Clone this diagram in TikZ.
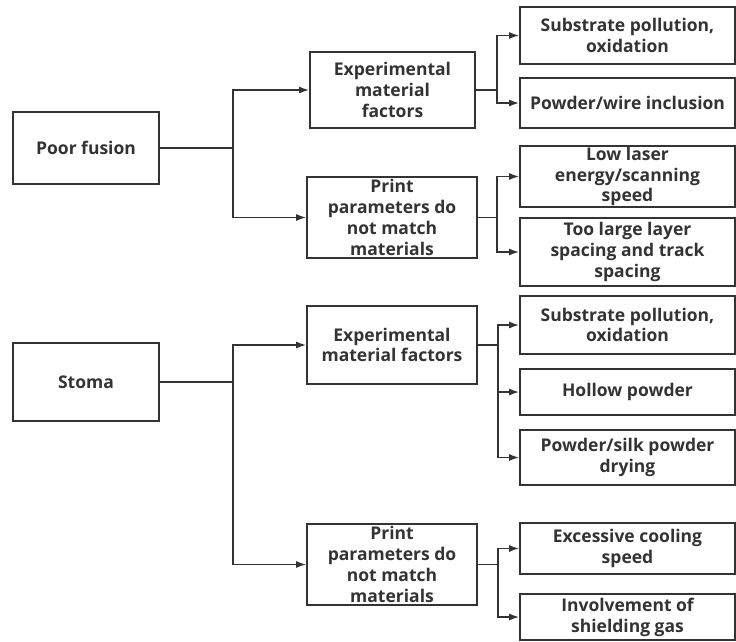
\documentclass[tikz,border=0pt]{standalone}
\usepackage{fontspec}
\setmainfont{Open Sans}
\usetikzlibrary{arrows.meta,positioning}
\definecolor{ink}{HTML}{333333}

\begin{document}
\begin{tikzpicture}[x=1pt,y=-1pt,>={Latex[length=10pt,width=7pt]},
                    line width=1.6pt,draw=ink,
                    font=\fontsize{17.5}{20.8}\selectfont\bfseries]
  \tikzstyle{every node}=[text=ink,align=center,inner sep=0pt]
  \tikzstyle{box}=[draw=ink,line width=1.6pt]
  \tikzstyle{root}=[box,minimum width=146pt]
  \tikzstyle{mid}=[box,minimum width=170pt]
  \tikzstyle{leaf}=[box,minimum width=215pt]
  \tikzstyle{elbow}=[->,to path={|- (\tikztotarget)}]

  \useasboundingbox (0,0) rectangle (736,641);

  % poor fusion
  \node[root,minimum height=72pt] (pf)    at (86,148)    {Poor fusion};
  \node[mid,minimum width=165pt,minimum height=76pt]
                                  (pfmat) at (392.5,90)  {Experimental\\material\\factors};
  \node[mid,minimum height=81pt]  (pfpar) at (392,217.5) {Print\\parameters do\\not match\\materials};
  \node[leaf,minimum height=57pt] (pfa)   at (627.5,35.5) {Substrate pollution,\\oxidation};
  \node[leaf,minimum height=50pt] (pfb)   at (627.5,103)  {Powder/wire inclusion};
  \node[leaf,minimum height=61pt] (pfc)   at (627.5,176.5) {Low laser\\energy/scanning\\speed};
  \node[leaf,minimum height=68pt] (pfd)   at (627.5,252)  {Too large layer\\spacing and track\\spacing};

  % stoma
  \node[root,minimum height=78pt] (st)    at (86,382)    {Stoma};
  \node[mid,minimum height=78pt]  (stmat) at (392,345)   {Experimental\\material factors};
  \node[mid,minimum height=81pt]  (stpar) at (392,564.5) {Print\\parameters do\\not match\\materials};
  \node[leaf,minimum height=58pt] (sta)   at (627.5,325)  {Substrate pollution,\\oxidation};
  \node[leaf,minimum height=46pt] (stb)   at (627.5,392)  {Hollow powder};
  \node[leaf,minimum height=55pt] (stc)   at (627.5,457.5) {Powder/silk powder\\drying};
  \node[leaf,minimum height=51pt] (std)   at (627.5,548.5) {Excessive cooling\\speed};
  \node[leaf,minimum height=46pt] (ste)   at (627.5,617)  {Involvement of\\shielding gas};

  % branch points
  \coordinate (pfj)    at (233,148);
  \coordinate (stj)    at (233,382);
  \coordinate (pfmatj) at (497,90);
  \coordinate (pfparj) at (497,217.5);
  \coordinate (stmatj) at (498,345);
  \coordinate (stparj) at (498,564.5);

  \draw (pf) -- (pfj);
  \draw (st) -- (stj);
  \draw (pfmat) -- (pfmatj);
  \draw (pfpar) -- (pfparj);
  \draw (stmat) -- (stmatj);
  \draw (stpar) -- (stparj);

  \path (pfj) edge [elbow] (pfmat)
              edge [elbow] (pfpar)
        (stj) edge [elbow] (stmat)
              edge [elbow] (stpar)
        (pfmatj) edge [elbow] (pfa)
                 edge [elbow] (pfb)
        (pfparj) edge [elbow] (pfc)
                 edge [elbow] (pfd)
        (stmatj) edge [elbow] (sta)
                 edge [elbow] (stb)
                 edge [elbow] (stc)
        (stparj) edge [elbow] (std)
                 edge [elbow] (ste);
\end{tikzpicture}
\end{document}
